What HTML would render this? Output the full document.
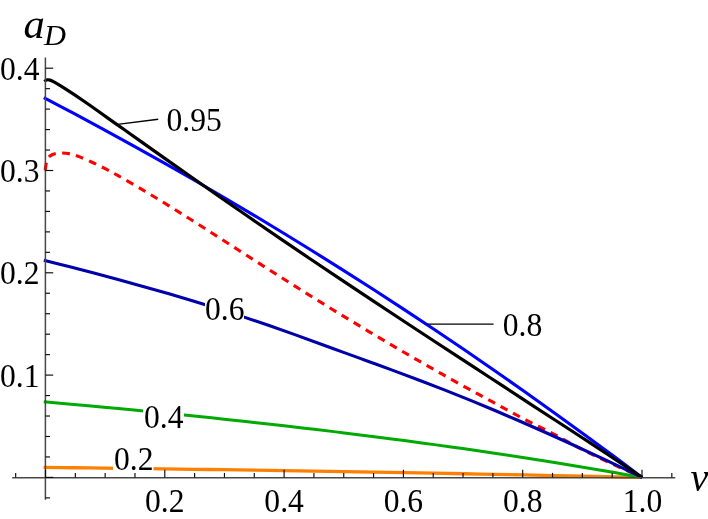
<!DOCTYPE html>
<html><head><meta charset="utf-8"><title>plot</title>
<style>html,body{margin:0;padding:0;background:#fff;font-family:"Liberation Serif",serif;overflow:hidden}svg{display:block;will-change:transform}</style></head>
<body>
<svg width="708" height="519" viewBox="0 0 708 519">
<rect width="708" height="519" fill="#ffffff"/>
<path d="M45.20 170.40 C45.38 169.17 45.83 164.98 46.30 163.00 C46.77 161.02 47.30 159.73 48.00 158.50 C48.70 157.27 49.34 156.40 50.51 155.60 C51.68 154.80 53.09 154.13 55.01 153.70 C56.93 153.27 59.52 152.97 62.02 153.00 C64.53 153.03 67.20 153.30 70.03 153.90 C72.87 154.50 75.29 155.17 79.05 156.60 C82.80 158.03 88.04 160.40 92.56 162.50 C97.09 164.60 101.93 167.01 106.18 169.20 C110.44 171.39 111.94 172.17 118.10 175.66 C124.26 179.15 134.79 185.17 143.13 190.11 C151.48 195.06 159.82 200.18 168.17 205.34 C176.51 210.50 184.85 215.77 193.20 221.06 C201.54 226.34 209.89 231.71 218.23 237.05 C226.58 242.40 234.92 247.78 243.27 253.14 C251.61 258.49 259.96 263.86 268.30 269.18 C276.65 274.50 284.99 279.81 293.33 285.07 C301.68 290.34 310.02 295.57 318.37 300.75 C326.71 305.93 335.06 311.08 343.40 316.17 C351.75 321.26 360.09 326.30 368.44 331.30 C376.78 336.29 385.12 341.24 393.47 346.13 C401.81 351.03 410.16 355.87 418.50 360.68 C426.85 365.48 435.19 370.23 443.54 374.94 C451.88 379.65 462.11 385.35 468.57 388.93 C475.03 392.51 478.07 394.12 482.29 396.41 C486.51 398.70 489.85 400.48 493.90 402.68 C497.96 404.87 502.47 407.32 506.62 409.58 C510.78 411.84 514.68 414.03 518.84 416.25 C522.99 418.47 527.32 420.75 531.56 422.90 C535.79 425.04 540.03 426.98 544.27 429.12 C548.51 431.25 551.92 432.95 556.99 435.71 C562.06 438.46 568.42 442.34 574.71 445.65 C581.01 448.97 588.06 452.36 594.74 455.60 C601.42 458.84 608.76 462.32 614.77 465.12 C620.78 467.91 626.25 470.33 630.79 472.38 C635.33 474.42 640.14 476.56 642.00 477.40" fill="none" stroke="#ff0000" stroke-width="3.1" stroke-linejoin="round" stroke-dasharray="7.8 6.3"/>
<path d="M43.60 467.39 C48.61 467.44 63.62 467.62 73.64 467.73 C83.65 467.85 93.67 467.98 103.68 468.10 C113.69 468.22 123.71 468.35 133.72 468.48 C143.73 468.61 153.75 468.74 163.76 468.88 C173.77 469.01 183.79 469.15 193.80 469.29 C203.81 469.43 213.83 469.58 223.84 469.72 C233.85 469.87 243.87 470.02 253.88 470.17 C263.89 470.32 273.91 470.47 283.92 470.63 C293.94 470.79 303.95 470.95 313.96 471.11 C323.98 471.27 333.99 471.44 344.00 471.61 C354.02 471.77 364.03 471.94 374.04 472.12 C384.06 472.29 394.07 472.47 404.08 472.65 C414.10 472.82 424.11 473.01 434.12 473.19 C444.14 473.37 454.15 473.56 464.16 473.75 C474.18 473.94 484.19 474.13 494.21 474.33 C504.22 474.52 514.23 474.72 524.25 474.92 C534.26 475.12 544.27 475.32 554.29 475.53 C564.30 475.73 574.31 475.94 584.33 476.15 C594.34 476.36 604.75 476.59 614.37 476.80 C623.98 477.00 637.40 477.30 642.00 477.40" fill="none" stroke="#ff8000" stroke-width="3.3" stroke-linejoin="round" />
<path d="M43.80 401.85 C48.81 402.29 63.83 403.61 73.84 404.52 C83.85 405.42 93.87 406.33 103.88 407.26 C113.89 408.19 123.91 409.14 133.92 410.10 C143.93 411.06 153.95 412.03 163.96 413.02 C173.97 414.02 183.99 415.02 194.00 416.05 C204.01 417.08 214.03 418.12 224.04 419.18 C234.05 420.24 244.07 421.32 254.08 422.43 C264.09 423.53 274.11 424.65 284.12 425.79 C294.14 426.93 304.15 428.09 314.16 429.28 C324.18 430.46 334.19 431.67 344.20 432.90 C354.22 434.13 364.23 435.38 374.24 436.66 C384.26 437.94 394.27 439.24 404.28 440.57 C414.30 441.90 424.31 443.25 434.32 444.63 C444.34 446.01 454.35 447.41 464.36 448.85 C474.38 450.28 484.39 451.74 494.41 453.23 C504.42 454.72 514.43 456.24 524.45 457.79 C534.46 459.34 544.47 460.91 554.49 462.52 C564.50 464.13 574.51 465.77 584.53 467.44 C594.54 469.12 604.99 470.90 614.57 472.56 C624.15 474.22 637.43 476.59 642.00 477.40" fill="none" stroke="#00aa00" stroke-width="3.0" stroke-linejoin="round" />
<path d="M43.80 260.27 C47.97 261.30 60.49 264.38 68.83 266.50 C77.18 268.61 85.52 270.77 93.87 272.97 C102.21 275.16 110.55 277.40 118.90 279.68 C127.24 281.96 135.59 284.28 143.93 286.64 C152.28 289.00 160.62 291.40 168.97 293.84 C177.31 296.29 185.66 298.77 194.00 301.31 C202.34 303.84 210.69 306.42 219.03 309.05 C227.38 311.69 235.72 314.37 244.07 317.12 C252.41 319.87 260.76 322.68 269.10 325.55 C277.45 328.43 285.79 331.38 294.14 334.36 C302.48 337.34 310.82 340.40 319.17 343.44 C327.51 346.48 335.86 349.55 344.20 352.60 C352.55 355.64 360.89 358.68 369.24 361.72 C377.58 364.77 385.93 367.78 394.27 370.86 C402.61 373.93 410.96 377.01 419.30 380.18 C427.65 383.34 435.99 386.55 444.34 389.83 C452.68 393.12 461.03 396.47 469.37 399.88 C477.72 403.29 486.06 406.77 494.41 410.29 C502.75 413.81 511.09 417.39 519.44 421.01 C527.78 424.63 536.13 428.30 544.47 432.01 C552.82 435.72 561.16 439.47 569.51 443.27 C577.85 447.07 586.20 450.92 594.54 454.81 C602.88 458.70 611.66 462.84 619.57 466.60 C627.48 470.37 638.27 475.60 642.00 477.40" fill="none" stroke="#0000aa" stroke-width="3.1" stroke-linejoin="round" />
<path d="M43.80 97.62 C48.81 100.25 63.83 108.11 73.84 113.44 C83.85 118.77 93.87 124.15 103.88 129.58 C113.89 135.02 123.91 140.51 133.92 146.06 C143.93 151.61 153.95 157.21 163.96 162.86 C173.97 168.52 183.99 174.23 194.00 180.00 C204.01 185.77 214.03 191.60 224.04 197.48 C234.05 203.36 244.07 209.30 254.08 215.30 C264.09 221.30 274.11 227.35 284.12 233.46 C294.14 239.57 304.15 245.74 314.16 251.97 C324.18 258.20 334.19 264.49 344.20 270.83 C354.22 277.18 364.23 283.58 374.24 290.04 C384.26 296.51 394.27 303.03 404.28 309.61 C414.30 316.19 424.31 322.84 434.32 329.54 C444.34 336.24 454.35 343.01 464.36 349.83 C474.38 356.66 484.39 363.54 494.41 370.49 C504.42 377.43 514.43 384.44 524.45 391.51 C534.46 398.58 544.47 405.72 554.49 412.91 C564.50 420.11 574.51 427.36 584.53 434.68 C594.54 442.00 604.99 449.72 614.57 456.84 C624.15 463.95 637.43 473.97 642.00 477.40" fill="none" stroke="#0000ff" stroke-width="3.1" stroke-linejoin="round" />
<path d="M44.40 81.70 C44.60 81.50 45.07 80.83 45.60 80.50 C46.13 80.17 46.87 79.82 47.60 79.75 C48.34 79.68 49.16 79.84 50.01 80.10 C50.86 80.36 51.56 80.72 52.71 81.30 C53.86 81.88 54.80 82.35 56.92 83.60 C59.04 84.85 62.59 87.02 65.43 88.82 C68.26 90.62 69.70 91.54 73.94 94.41 C78.18 97.27 85.20 102.08 90.86 106.03 C96.52 109.98 102.23 114.10 107.88 118.10 C113.54 122.11 119.15 126.04 124.81 130.05 C130.46 134.06 135.94 137.97 141.83 142.15 C147.72 146.33 152.09 149.44 160.15 155.13 C168.22 160.82 180.18 169.27 190.20 176.29 C200.21 183.31 210.22 190.30 220.24 197.26 C230.25 204.22 240.26 211.15 250.28 218.04 C260.29 224.94 270.30 231.80 280.32 238.62 C290.33 245.45 300.34 252.24 310.36 259.00 C320.37 265.76 330.38 272.49 340.40 279.19 C350.41 285.88 360.42 292.55 370.44 299.19 C380.45 305.83 390.47 312.44 400.48 319.04 C410.49 325.63 420.51 332.20 430.52 338.76 C440.53 345.32 450.55 351.86 460.56 358.40 C470.57 364.94 480.59 371.47 490.60 378.00 C500.61 384.54 510.63 391.09 520.64 397.62 C530.65 404.16 540.67 410.70 550.68 417.22 C560.69 423.74 570.71 430.20 580.72 436.75 C590.74 443.30 600.55 449.73 610.76 456.51 C620.98 463.28 636.80 473.92 642.00 477.40" fill="none" stroke="#000000" stroke-width="3.2" stroke-linejoin="round" />
<rect x="205" y="292" width="39" height="32" fill="#fff"/>
<rect x="143" y="400" width="41" height="32" fill="#fff"/>
<rect x="113" y="443" width="40.5" height="32" fill="#fff"/>
<g stroke="#484848" stroke-width="1.5" fill="none">
<line x1="12.2" y1="477.7" x2="675.3" y2="477.7"/>
<line x1="45.4" y1="57.5" x2="45.4" y2="499.8"/>
</g>
<g stroke="#0a0a0a" stroke-width="1.15" fill="none">
<line x1="15.67" y1="477.50" x2="15.67" y2="472.90"/>
<line x1="45.50" y1="477.50" x2="45.50" y2="469.70"/>
<line x1="75.33" y1="477.50" x2="75.33" y2="472.90"/>
<line x1="105.15" y1="477.50" x2="105.15" y2="472.90"/>
<line x1="134.98" y1="477.50" x2="134.98" y2="472.90"/>
<line x1="164.80" y1="477.50" x2="164.80" y2="469.70"/>
<line x1="194.62" y1="477.50" x2="194.62" y2="472.90"/>
<line x1="224.45" y1="477.50" x2="224.45" y2="472.90"/>
<line x1="254.28" y1="477.50" x2="254.28" y2="472.90"/>
<line x1="284.10" y1="477.50" x2="284.10" y2="469.70"/>
<line x1="313.93" y1="477.50" x2="313.93" y2="472.90"/>
<line x1="343.75" y1="477.50" x2="343.75" y2="472.90"/>
<line x1="373.58" y1="477.50" x2="373.58" y2="472.90"/>
<line x1="403.40" y1="477.50" x2="403.40" y2="469.70"/>
<line x1="433.23" y1="477.50" x2="433.23" y2="472.90"/>
<line x1="463.05" y1="477.50" x2="463.05" y2="472.90"/>
<line x1="492.88" y1="477.50" x2="492.88" y2="472.90"/>
<line x1="522.70" y1="477.50" x2="522.70" y2="469.70"/>
<line x1="552.53" y1="477.50" x2="552.53" y2="472.90"/>
<line x1="582.35" y1="477.50" x2="582.35" y2="472.90"/>
<line x1="612.18" y1="477.50" x2="612.18" y2="472.90"/>
<line x1="642.00" y1="477.50" x2="642.00" y2="469.70"/>
<line x1="671.83" y1="477.50" x2="671.83" y2="472.90"/>
<line x1="45.40" y1="497.86" x2="50.00" y2="497.86"/>
<line x1="45.40" y1="477.40" x2="53.20" y2="477.40"/>
<line x1="45.40" y1="456.94" x2="50.00" y2="456.94"/>
<line x1="45.40" y1="436.48" x2="50.00" y2="436.48"/>
<line x1="45.40" y1="416.02" x2="50.00" y2="416.02"/>
<line x1="45.40" y1="395.56" x2="50.00" y2="395.56"/>
<line x1="45.40" y1="375.10" x2="53.20" y2="375.10"/>
<line x1="45.40" y1="354.64" x2="50.00" y2="354.64"/>
<line x1="45.40" y1="334.18" x2="50.00" y2="334.18"/>
<line x1="45.40" y1="313.72" x2="50.00" y2="313.72"/>
<line x1="45.40" y1="293.26" x2="50.00" y2="293.26"/>
<line x1="45.40" y1="272.80" x2="53.20" y2="272.80"/>
<line x1="45.40" y1="252.34" x2="50.00" y2="252.34"/>
<line x1="45.40" y1="231.88" x2="50.00" y2="231.88"/>
<line x1="45.40" y1="211.42" x2="50.00" y2="211.42"/>
<line x1="45.40" y1="190.96" x2="50.00" y2="190.96"/>
<line x1="45.40" y1="170.50" x2="53.20" y2="170.50"/>
<line x1="45.40" y1="150.04" x2="50.00" y2="150.04"/>
<line x1="45.40" y1="129.58" x2="50.00" y2="129.58"/>
<line x1="45.40" y1="109.12" x2="50.00" y2="109.12"/>
<line x1="45.40" y1="88.66" x2="50.00" y2="88.66"/>
<line x1="45.40" y1="68.20" x2="53.20" y2="68.20"/>
</g>
<line x1="117.6" y1="124.4" x2="158.2" y2="119.3" stroke="#000" stroke-width="1.4"/>
<line x1="426.6" y1="324.1" x2="493.6" y2="324.1" stroke="#000" stroke-width="1.4"/>
<g font-family="'Liberation Serif', serif" font-size="31.6" fill="#000">
<text transform="translate(164.80 511.90) scale(1 1.045)" text-anchor="middle">0.2</text>
<text transform="translate(284.10 511.90) scale(1 1.045)" text-anchor="middle">0.4</text>
<text transform="translate(403.40 511.90) scale(1 1.045)" text-anchor="middle">0.6</text>
<text transform="translate(522.70 511.90) scale(1 1.045)" text-anchor="middle">0.8</text>
<text transform="translate(642.50 511.90) scale(1 1.045)" text-anchor="middle">1.0</text>
<text transform="translate(39.50 386.50) scale(1 1.045)" text-anchor="end">0.1</text>
<text transform="translate(39.50 284.20) scale(1 1.045)" text-anchor="end">0.2</text>
<text transform="translate(39.50 181.90) scale(1 1.045)" text-anchor="end">0.3</text>
<text transform="translate(39.50 79.60) scale(1 1.045)" text-anchor="end">0.4</text>
<text transform="translate(166.50 130.90) scale(1 1.045)" text-anchor="start">0.95</text>
<text transform="translate(502.70 336.30) scale(1 1.045)" text-anchor="start">0.8</text>
<text transform="translate(205.00 320.30) scale(1 1.045)" text-anchor="start">0.6</text>
<text transform="translate(144.00 427.90) scale(1 1.045)" text-anchor="start">0.4</text>
<text transform="translate(114.00 470.40) scale(1 1.045)" text-anchor="start">0.2</text>
</g>
<g font-family="'Liberation Serif', serif" font-style="italic" fill="#000">
<text transform="translate(23.4 38) scale(1.04 0.96)" font-size="41">a</text>
<text transform="translate(44 45) scale(1 0.97)" font-size="30.5">D</text>
<text x="690.5" y="491" font-size="40">ν</text>
</g>
</svg>
</body></html>
